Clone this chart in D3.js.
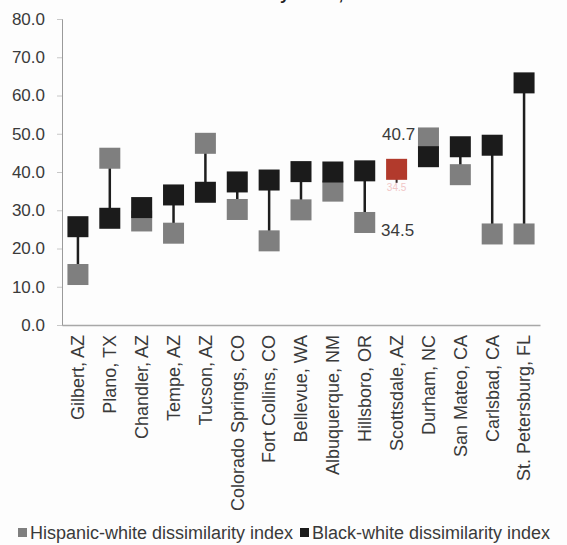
<!DOCTYPE html>
<html>
<head>
<meta charset="utf-8">
<script src="https://cdn.jsdelivr.net/npm/d3@7"></script>
<style>
  html, body { margin: 0; padding: 0; background: #fdfdfd; }
  svg { display: block; font-family: "Liberation Sans", Arial, sans-serif; }
</style>
</head>
<body>
<svg id="chart" width="567" height="545"></svg>
<script>
// Dissimilarity index by city
const cities = ["Gilbert, AZ", "Plano, TX", "Chandler, AZ", "Tempe, AZ", "Tucson, AZ",
  "Colorado Springs, CO", "Fort Collins, CO", "Bellevue, WA", "Albuquerque, NM",
  "Hillsboro, OR", "Scottsdale, AZ", "Durham, NC", "San Mateo, CA", "Carlsbad, CA",
  "St. Petersburg, FL"];
const hispanicWhite = [13.2, 43.6, 27.2, 24.0, 47.5, 30.2, 22.0, 30.1, 35.0, 26.8, 34.5, 48.9, 39.3, 23.8, 23.8];
const blackWhite    = [25.7, 27.9, 30.7, 34.0, 34.7, 37.4, 37.9, 40.1, 40.0, 40.3, 40.7, 44.0, 46.6, 47.0, 63.3];
const yTicks = [0, 10, 20, 30, 40, 50, 60, 70, 80];
const highlightCity = "Scottsdale, AZ";
const seriesNames = ["Hispanic-white dissimilarity index", "Black-white dissimilarity index"];

const svg = d3.select("#chart");
const textColor = "#3a3a3a";
const grayFill = "#7f7f7f";
const blackFill = "#1b1b1b";
const redFill = "#b23a2c";

const x = d3.scaleBand().domain(cities).range([62, 540]);
const y = d3.scaleLinear().domain([0, 80]).range([325, 19]);
const m = 21; // marker side

// Title (runs off the top edge)
svg.append("text")
  .attr("x", 287).attr("y", 0)
  .attr("text-anchor", "middle")
  .attr("font-size", 17).attr("font-weight", "bold")
  .attr("fill", "#222")
  .text("Dissimilarity Index, 2010");

// Y axis
const yAxis = svg.append("g")
  .attr("transform", "translate(62,0)")
  .call(d3.axisLeft(y).tickValues(yTicks).tickFormat(d3.format(".1f")).tickSize(5).tickPadding(12));
yAxis.select(".domain").attr("stroke", "#9a9a9a");
yAxis.selectAll(".tick line").attr("stroke", "#c8c8c8");
yAxis.selectAll(".tick text").attr("font-size", 17).attr("fill", textColor)
  .attr("font-family", "Liberation Sans, Arial, sans-serif");

// X axis
const xAxis = svg.append("g")
  .attr("transform", "translate(0,325)")
  .call(d3.axisBottom(x).tickSize(0).tickPadding(0));
xAxis.select(".domain").attr("stroke", "#a8a8a8").attr("stroke-width", 1.5);
xAxis.selectAll(".tick text")
  .attr("font-size", 18).attr("fill", textColor)
  .attr("font-family", "Liberation Sans, Arial, sans-serif")
  .attr("text-anchor", "end")
  .attr("transform", "translate(0,10) rotate(-90)")
  .attr("dx", 0).attr("dy", "0.35em").attr("y", 0);

const rows = cities.map((c, i) => ({ city: c, h: hispanicWhite[i], b: blackWhite[i] }));
const cx = d => x(d.city) + x.bandwidth() / 2;

// Connectors
svg.append("g").selectAll("line")
  .data(rows.filter(d => d.city !== highlightCity))
  .join("line")
  .attr("x1", cx).attr("x2", cx)
  .attr("y1", d => y(d.h)).attr("y2", d => y(d.b))
  .attr("stroke", "#1e1e1e").attr("stroke-width", 2.5);

// Hispanic-white markers
svg.append("g").selectAll("rect")
  .data(rows.filter(d => d.city !== highlightCity))
  .join("rect")
  .attr("x", d => cx(d) - m / 2).attr("y", d => y(d.h) - m / 2)
  .attr("width", m).attr("height", m)
  .attr("fill", grayFill);

// Black-white markers
svg.append("g").selectAll("rect")
  .data(rows.filter(d => d.city !== highlightCity))
  .join("rect")
  .attr("x", d => cx(d) - m / 2).attr("y", d => y(d.b) - m / 2)
  .attr("width", m).attr("height", m)
  .attr("fill", blackFill);

// Highlighted city
const hl = rows.find(d => d.city === highlightCity);
svg.append("line")
  .attr("x1", cx(hl)).attr("x2", cx(hl))
  .attr("y1", y(hl.b)).attr("y2", y(hl.b) + m / 2 + 3)
  .attr("stroke", "#3a2a2a").attr("stroke-width", 2);
svg.append("text")
  .attr("x", cx(hl)).attr("y", y(hl.h) - 2)
  .attr("text-anchor", "middle").attr("font-size", 10)
  .attr("fill", "#f1c6c6")
  .text(hl.h.toFixed(1));
svg.append("rect")
  .attr("x", cx(hl) - m / 2).attr("y", y(hl.b) - m / 2)
  .attr("width", m).attr("height", m)
  .attr("fill", redFill);

// Value labels for the highlighted city
svg.append("text")
  .attr("x", cx(hl) + 2).attr("y", y(hl.b) - 29)
  .attr("text-anchor", "middle").attr("font-size", 17).attr("fill", textColor)
  .text(hl.b.toFixed(1));
svg.append("text")
  .attr("x", cx(hl) + 1).attr("y", y(hl.h) + 43)
  .attr("text-anchor", "middle").attr("font-size", 17).attr("fill", textColor)
  .text(hl.h.toFixed(1));

// Legend
const legend = svg.append("g");
const legendItems = [
  { name: seriesNames[0], color: grayFill, x: 18 },
  { name: seriesNames[1], color: blackFill, x: 300 }
];
legendItems.forEach(it => {
  legend.append("rect").attr("x", it.x).attr("y", 528).attr("width", 9).attr("height", 9).attr("fill", it.color);
  legend.append("text").attr("x", it.x + 12).attr("y", 539)
    .attr("font-size", 18).attr("fill", textColor).text(it.name);
});
</script>
</body>
</html>
